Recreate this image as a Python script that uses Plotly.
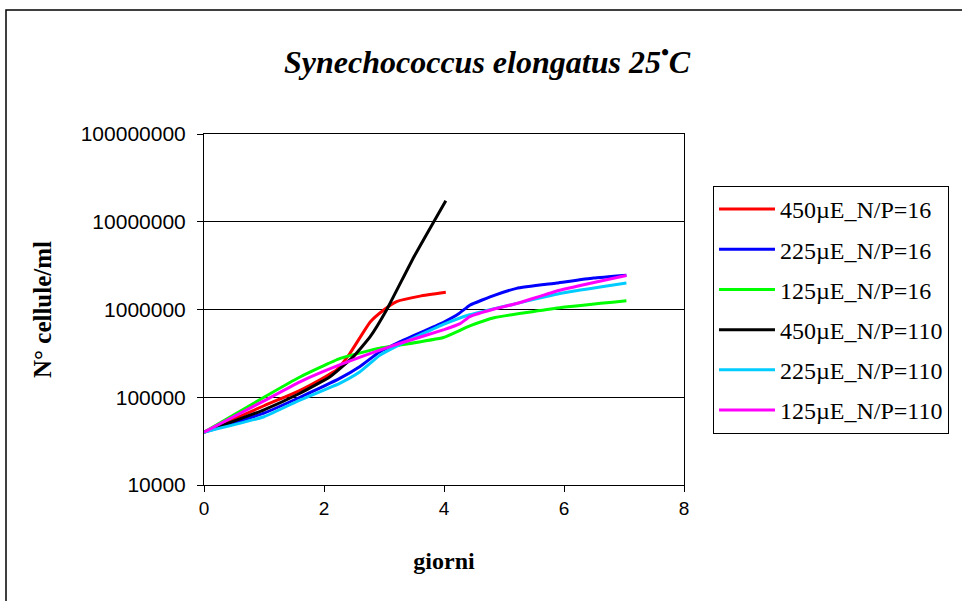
import plotly.graph_objects as go

# ---- data ----
red_x = [0, 1, 1.6, 2, 2.21, 2.43, 2.77, 2.99, 3.21, 3.6, 4.03]
red_y = [40000, 80000, 120000, 168000, 205000, 315000, 720000, 980000, 1230000, 1420000, 1570000]

blue_x = [0, 1, 1.6, 2.27, 2.6, 2.93, 3.27, 4.0, 4.25, 4.43, 4.85, 5.21, 5.88, 6.49, 7.04]
blue_y = [40000, 66000, 100000, 165000, 224000, 330000, 430000, 720000, 900000, 1120000, 1460000, 1740000, 2000000, 2280000, 2460000]

green_x = [0, 1, 1.6, 2.27, 2.93, 3.27, 3.99, 4.43, 4.85, 5.93, 7.04]
green_y = [40000, 100000, 170000, 277000, 363000, 394000, 480000, 650000, 810000, 1050000, 1260000]

black_x = [0, 1, 1.6, 2.1, 2.49, 2.77, 3.04, 3.5, 4.03]
black_y = [40000, 72000, 111000, 171000, 290000, 490000, 980000, 4000000, 17400000]

cyan_x = [0, 1, 1.6, 2.27, 2.6, 2.93, 3.27, 4.0, 4.43, 5.21, 5.93, 7.04]
cyan_y = [40000, 60000, 93000, 145000, 195000, 300000, 400000, 680000, 870000, 1170000, 1520000, 2000000]

magenta_x = [0, 1, 1.6, 2.27, 2.93, 3.27, 4.0, 4.27, 4.43, 4.85, 5.21, 5.93, 7.04]
magenta_y = [40000, 91000, 150000, 235000, 345000, 412000, 590000, 690000, 830000, 1020000, 1170000, 1660000, 2440000]

series_names = ["450µE_N/P=16", "225µE_N/P=16", "125µE_N/P=16",
                "450µE_N/P=110", "225µE_N/P=110", "125µE_N/P=110"]
series_colors = ["#FF0000", "#0000FF", "#00FF00", "#000000", "#00CCFF", "#FF00FF"]

y_tickvals = [10000, 100000, 1000000, 10000000, 100000000]
y_ticktext = ["10000", "100000", "1000000", "10000000", "100000000"]
x_tickvals = [0, 2, 4, 6, 8]

xs = [red_x, blue_x, green_x, black_x, cyan_x, magenta_x]
ys = [red_y, blue_y, green_y, black_y, cyan_y, magenta_y]

fig = go.Figure()
for i, (name, col, x, y) in enumerate(zip(series_names, series_colors, xs, ys)):
    fig.add_trace(go.Scatter(
        x=x, y=y, mode="lines", name=name, legendgroup=f"g{i}",
        line=dict(color=col, width=3, shape="spline", smoothing=0.4),
    ))

serif = "Liberation Serif, Times New Roman, serif"
sans = "Liberation Sans, Arial, sans-serif"

fig.update_layout(
    width=962, height=601,
    margin=dict(l=204, r=278, t=134, b=116),
    paper_bgcolor="white", plot_bgcolor="white",
    showlegend=True,
    legend=dict(
        x=1.0604, y=0.852, xanchor="left", yanchor="top",
        bordercolor="black", borderwidth=1,
        font=dict(family=serif, size=24, color="black"),
        tracegroupgap=6, traceorder="grouped",
        itemwidth=56,
    ),
    xaxis=dict(
        range=[0, 8], tickvals=x_tickvals, showgrid=False,
        showline=True, linecolor="black", linewidth=1, mirror=True,
        ticks="outside", ticklen=6, tickcolor="black",
        tickfont=dict(family=sans, size=19, color="black"),
        title=dict(text="<b>giorni</b>", font=dict(family=serif, size=24, color="black"), standoff=34),
        zeroline=False,
    ),
    yaxis=dict(
        type="log", range=[4, 8], tickvals=y_tickvals, ticktext=y_ticktext,
        showgrid=True, gridcolor="black", gridwidth=1,
        showline=True, linecolor="black", linewidth=1, mirror=True,
        ticks="outside", ticklen=6, tickcolor="black", ticklabelstandoff=7,
        tickfont=dict(family=sans, size=21, color="black"),
        title=dict(text="<b>N° cellule/ml</b>", font=dict(family=serif, size=25, color="black"), standoff=21),
        zeroline=False,
    ),
    annotations=[dict(
        text="<b><i>Synechococcus elongatus 25<sup>•</sup>C</i></b>",
        xref="paper", yref="paper", x=0.5896, y=1.2108,
        xanchor="center", yanchor="middle", showarrow=False,
        font=dict(family=serif, size=32, color="black"),
    )],
    shapes=[dict(
        type="rect", xref="paper", yref="paper",
        x0=-0.4125, x1=1.75, y0=-0.6, y1=1.353,
        line=dict(color="black", width=1.5), layer="below",
    )],
)

fig.write_html("out.html")
